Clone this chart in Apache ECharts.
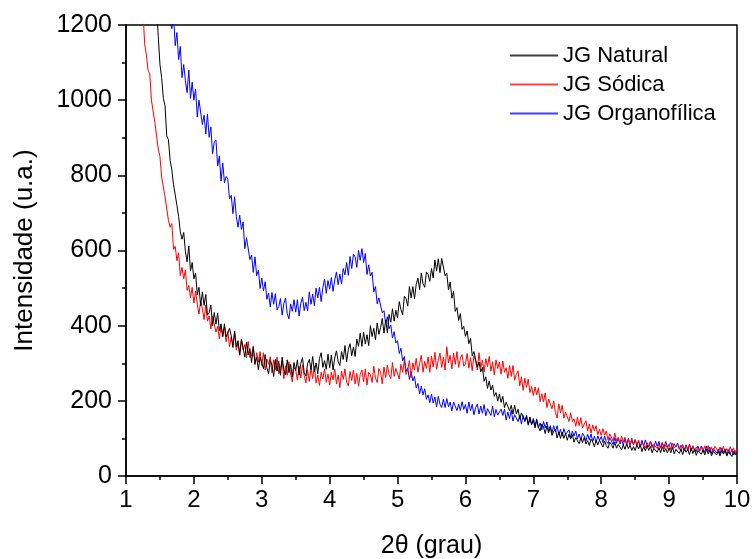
<!DOCTYPE html>
<html>
<head>
<meta charset="utf-8">
<script src="https://cdn.jsdelivr.net/npm/echarts@6/dist/echarts.min.js"></script>
<style>
  html, body { margin: 0; padding: 0; background: #fff; }
  #main { width: 754px; height: 559px; }
</style>
</head>
<body>
<div id="main"></div>
<script>
// 2theta grid: 1.000 .. 10.000, step 0.025 (20 points per row = 0.5 grau)
var xStart = 1.0;
var xStep = 0.025;

var natural = [
  2600, 2510, 2420, 2340, 2250, 2170, 2100, 2020, 1950, 1870, 1800, 1720, 1650, 1580, 1520, 1450, 1390, 1320, 1245, 1170,
  1095, 1060, 1005, 985, 905, 895, 840, 815, 775, 748, 720, 690, 650, 630, 648, 598, 570, 612, 545, 568,
  525, 540, 482, 502, 453, 490, 454, 483, 428, 435, 455, 399, 435, 404, 433, 387, 405, 370, 405, 370,
  368, 393, 373, 342, 386, 344, 360, 323, 362, 342, 316, 356, 322, 339, 302, 344, 299, 316, 283, 316,
  320, 285, 323, 288, 272, 307, 295, 265, 310, 279, 305, 268, 316, 283, 269, 309, 275, 297, 263, 302,
  281, 309, 268, 300, 315, 275, 266, 299, 310, 283, 318, 277, 301, 272, 313, 328, 289, 307, 284, 324,
  288, 322, 282, 314, 333, 305, 294, 331, 310, 347, 304, 337, 352, 320, 343, 318, 364, 345, 380, 345,
  383, 351, 376, 347, 400, 371, 393, 362, 407, 377, 395, 419, 380, 415, 381, 430, 409, 445, 412, 441,
  421, 464, 443, 429, 478, 472, 452, 504, 474, 504, 472, 510, 527, 496, 540, 512, 502, 543, 536, 518,
  552, 527, 575, 545, 578, 541, 579, 580, 533, 540, 495, 516, 473, 492, 438, 448, 414, 432, 390, 398,
  372, 386, 352, 366, 320, 331, 329, 289, 303, 277, 289, 252, 264, 233, 253, 229, 242, 212, 222, 199,
  218, 196, 212, 182, 196, 201, 174, 188, 165, 188, 165, 178, 151, 168, 171, 147, 158, 138, 157, 138,
  149, 128, 148, 129, 120, 138, 130, 113, 133, 115, 130, 108, 119, 125, 101, 117, 100, 117, 100, 113,
  95, 111, 98, 110, 90, 102, 105, 86, 101, 89, 103, 85, 94, 81, 98, 91, 78, 95, 83, 95,
  92, 77, 93, 81, 74, 90, 84, 74, 90, 74, 84, 87, 70, 83, 71, 86, 73, 82, 68, 78,
  68, 83, 72, 83, 65, 78, 67, 81, 68, 79, 62, 74, 79, 63, 76, 62, 78, 64, 73, 61,
  75, 62, 76, 59, 71, 76, 60, 71, 57, 74, 63, 71, 57, 74, 60, 71, 55, 68, 72, 58,
  69, 56, 71, 59, 69, 54, 65, 70, 56, 66, 53, 68, 58, 69, 53, 64, 67, 52, 65, 56,
  62
];

var sodica = [
  1900, 1820, 1750, 1670, 1600, 1530, 1470, 1400, 1340, 1270, 1235, 1150, 1120, 1080, 1070, 1000, 995, 940, 905, 870,
  850, 795, 800, 743, 745, 680, 662, 672, 603, 611, 573, 594, 533, 555, 525, 548, 494, 507, 474, 502,
  460, 492, 457, 431, 465, 446, 416, 455, 412, 426, 391, 426, 431, 383, 398, 365, 399, 373, 397, 357,
  384, 344, 370, 349, 380, 335, 354, 321, 364, 335, 350, 315, 358, 315, 322, 345, 296, 328, 303, 331,
  294, 328, 282, 311, 297, 317, 275, 309, 283, 316, 272, 286, 308, 259, 293, 268, 304, 271, 250, 289,
  282, 255, 292, 261, 296, 267, 248, 283, 252, 288, 259, 292, 248, 269, 241, 276, 258, 285, 249, 271,
  242, 276, 256, 284, 245, 269, 235, 279, 257, 285, 249, 240, 278, 254, 282, 245, 273, 239, 270, 282,
  251, 285, 242, 276, 269, 249, 292, 260, 249, 286, 276, 245, 290, 262, 295, 270, 259, 302, 265, 286,
  289, 258, 297, 276, 307, 270, 283, 307, 262, 301, 282, 313, 276, 300, 321, 276, 305, 286, 317, 276,
  319, 290, 329, 284, 308, 327, 289, 316, 282, 344, 301, 321, 285, 327, 297, 331, 289, 313, 323, 292,
  298, 326, 287, 315, 280, 320, 307, 282, 328, 289, 308, 277, 312, 291, 318, 279, 304, 269, 309, 286,
  303, 271, 306, 276, 288, 260, 294, 265, 294, 255, 270, 280, 240, 264, 228, 260, 236, 258, 222, 238,
  214, 237, 216, 235, 198, 219, 198, 221, 182, 205, 210, 179, 200, 169, 154, 192, 168, 188, 154, 170,
  170, 145, 168, 145, 152, 132, 156, 134, 155, 128, 138, 147, 120, 138, 114, 136, 120, 134, 110, 124,
  108, 126, 108, 120, 96, 112, 112, 93, 114, 94, 102, 87, 106, 91, 103, 81, 98, 83, 101, 84,
  96, 81, 96, 78, 88, 92, 75, 89, 79, 92, 75, 84, 89, 73, 86, 75, 89, 72, 83, 73,
  84, 70, 87, 74, 69, 84, 78, 67, 84, 70, 81, 67, 83, 70, 81, 65, 77, 81, 66, 78,
  65, 80, 70, 81, 63, 76, 65, 79, 73, 61, 77, 65, 79, 62, 73, 61, 78, 65, 75, 59,
  72
];

var organofilica = [
  2400, 2330, 2250, 2180, 2110, 2050, 1980, 1920, 1860, 1800, 1750, 1700, 1650, 1610, 1560, 1520, 1480, 1440, 1410, 1380,
  1390, 1330, 1335, 1285, 1292, 1235, 1237, 1190, 1225, 1145, 1180, 1108, 1143, 1060, 1095, 1052, 1020, 1080, 1005, 1048,
  1000, 1030, 955, 1000, 1005, 935, 960, 910, 963, 901, 929, 857, 888, 894, 825, 851, 785, 833, 780, 797,
  790, 737, 747, 698, 743, 690, 662, 694, 656, 676, 605, 634, 631, 576, 588, 542, 583, 533, 548, 499,
  527, 493, 517, 470, 487, 450, 488, 457, 485, 442, 451, 472, 428, 459, 473, 432, 418, 458, 438, 469,
  436, 469, 426, 460, 476, 440, 462, 439, 490, 457, 484, 453, 500, 474, 502, 464, 502, 524, 486, 520,
  497, 528, 491, 522, 543, 509, 537, 511, 552, 535, 568, 534, 584, 552, 590, 583, 555, 600, 574, 605,
  568, 592, 536, 562, 532, 542, 490, 504, 458, 474, 476, 434, 440, 404, 424, 392, 402, 367, 384, 354,
  360, 326, 340, 306, 318, 278, 288, 257, 277, 253, 265, 234, 246, 218, 239, 216, 232, 204, 216, 195,
  218, 194, 210, 184, 212, 191, 182, 205, 182, 206, 184, 197, 173, 197, 202, 174, 191, 174, 198, 177,
  190, 167, 197, 174, 191, 163, 182, 191, 165, 186, 167, 190, 160, 179, 184, 161, 186, 158, 177, 162,
  157, 178, 161, 178, 149, 170, 153, 175, 146, 163, 168, 145, 161, 138, 161, 144, 162, 135, 152, 136,
  153, 133, 152, 128, 141, 123, 145, 128, 144, 120, 134, 115, 134, 117, 134, 110, 124, 106, 126, 111,
  108, 123, 102, 119, 106, 120, 99, 112, 95, 114, 106, 93, 111, 96, 112, 92, 106, 89, 107, 95,
  105, 89, 106, 92, 86, 102, 97, 84, 102, 87, 102, 85, 96, 82, 99, 85, 100, 82, 95, 83,
  97, 82, 92, 77, 95, 79, 96, 83, 77, 92, 88, 75, 93, 79, 92, 74, 89, 76, 92, 78,
  75, 89, 72, 86, 77, 88, 71, 82, 86, 68, 83, 70, 85, 67, 78, 81, 65, 79, 68, 80,
  78, 63, 80, 65, 77, 60, 73, 76, 61, 72, 59, 75, 62, 72, 56, 70, 58, 71, 56, 67,
  64
];

var seriesNames = ['JG Natural', 'JG Sódica', 'JG Organofílica'];
var seriesColors = ['#000000', '#ff0000', '#0000ff'];

function pairs(arr) {
  var out = [];
  for (var i = 0; i < arr.length; i++) {
    out.push([+(xStart + i * xStep).toFixed(3), arr[i]]);
  }
  return out;
}

var chart = echarts.init(document.getElementById('main'), null, { renderer: 'canvas' });

var font = 'Liberation Sans, Arial, sans-serif';

var option = {
  backgroundColor: '#fff',
  animation: false,
  color: seriesColors,
  grid: {
    left: 126, right: 17, top: 25, bottom: 83,
    outerBoundsMode: 'none',
    containLabel: false,
    show: true, borderColor: '#000', borderWidth: 1.5, backgroundColor: 'transparent'
  },
  legend: {
    orient: 'vertical',
    left: 505, top: 39,
    itemWidth: 48, itemHeight: 2, itemGap: 6,
    icon: 'rect',
    inactiveColor: '#ccc',
    textStyle: { fontFamily: font, fontSize: 22, color: '#000', lineHeight: 23 },
    data: seriesNames.map(function (n, i) {
      return {
        name: n,
        itemStyle: { color: seriesColors[i], borderColor: seriesColors[i], borderWidth: 0, opacity: 0.75 }
      };
    })
  },
  xAxis: {
    type: 'value', min: 1, max: 10, interval: 1,
    name: '2θ (grau)', nameLocation: 'middle', nameGap: 58,
    nameTextStyle: { fontFamily: font, fontSize: 25, color: '#000' },
    axisLine: { lineStyle: { color: '#000', width: 1.5 } },
    axisTick: { inside: false, length: 8, lineStyle: { color: '#000', width: 1.5 } },
    minorTick: { show: true, splitNumber: 2, length: 4, lineStyle: { color: '#000', width: 1.5 } },
    axisLabel: { fontFamily: font, fontSize: 24, color: '#000', margin: 12 },
    splitLine: { show: false }
  },
  yAxis: {
    type: 'value', min: 0, max: 1200, interval: 200,
    name: 'Intensidade (u.a.)', nameLocation: 'middle', nameGap: 88,
    nameTextStyle: { fontFamily: font, fontSize: 26, color: '#000' },
    axisLine: { show: true, lineStyle: { color: '#000', width: 1.5 } },
    axisTick: { show: true, inside: false, length: 8, lineStyle: { color: '#000', width: 1.5 } },
    minorTick: { show: true, splitNumber: 2, length: 4, lineStyle: { color: '#000', width: 1.5 } },
    axisLabel: {
      fontFamily: font, fontSize: 25, color: '#000', margin: 14,
      formatter: function (v) { return String(v); }
    },
    splitLine: { show: false }
  },
  series: [natural, sodica, organofilica].map(function (arr, i) {
    return {
      name: seriesNames[i],
      type: 'line',
      data: pairs(arr),
      symbol: 'none',
      clip: true,
      itemStyle: { color: seriesColors[i] },
      lineStyle: { color: seriesColors[i], width: 1 },
      z: 3 - i
    };
  })
};

chart.setOption(option);
</script>
</body>
</html>
